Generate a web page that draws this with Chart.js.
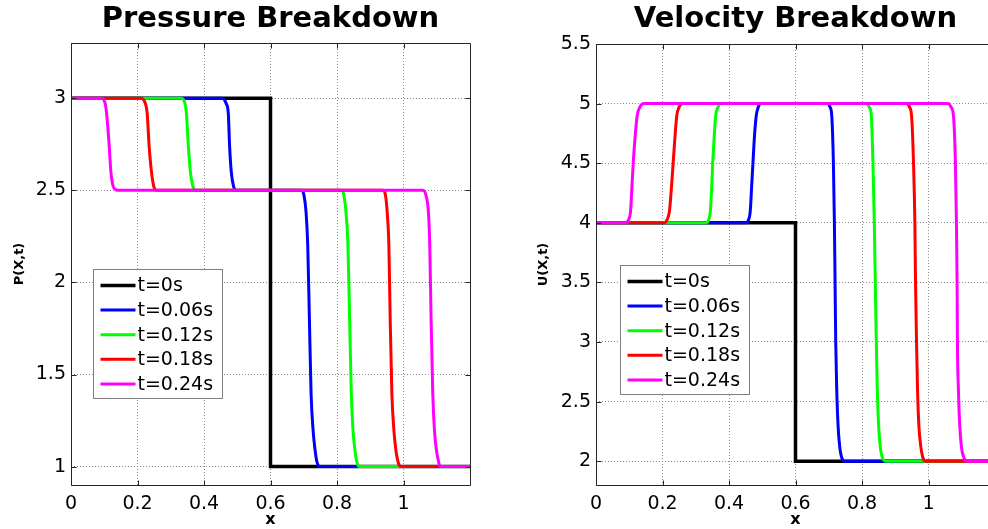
<!DOCTYPE html>
<html>
<head>
<meta charset="utf-8">
<script src="https://cdn.jsdelivr.net/npm/chart.js@4.4.1/dist/chart.umd.min.js"></script>
<style>
  html, body { margin: 0; padding: 0; background: #fff; overflow: hidden; width: 988px; height: 529px; }
  .panel { position: absolute; top: 0; height: 529px; width: 494px; overflow: hidden; }
  #leftPanel { left: 0; }
  #rightPanel { left: 494px; }
  canvas { display: block; }
</style>
</head>
<body>
<div class="panel" id="leftPanel"><canvas id="pressure" width="494" height="529"></canvas></div>
<div class="panel" id="rightPanel"><canvas id="velocity" width="506" height="529"></canvas></div>
<script>
// Snapshot times and their colours
const seriesLabels = ['t=0s', 't=0.06s', 't=0.12s', 't=0.18s', 't=0.24s'];
const seriesColors = ['#000000', '#0000ff', '#00ff00', '#ff0000', '#ff00ff'];

// Axis ticks
const xTicks = [0, 0.2, 0.4, 0.6, 0.8, 1];
const pressureTicks = [1, 1.5, 2, 2.5, 3];
const velocityTicks = [2, 2.5, 3, 3.5, 4, 4.5, 5, 5.5];

// Pressure profiles P(x,t)
const pX0 = [0, 0.6, 0.6, 1.2];
const pY0 = [3, 3, 1, 1];
const pX1 = [0, 0.455, 0.462, 0.467, 0.473, 0.477, 0.482, 0.489, 0.493, 0.498, 0.693, 0.701, 0.707, 0.712, 0.717, 0.722, 0.728, 0.734, 0.739, 0.744, 0.749, 1.2];
const pY1 = [3, 3, 2.99, 2.97, 2.92, 2.74, 2.6, 2.52, 2.505, 2.5, 2.5, 2.47, 2.38, 2.2, 1.8, 1.4, 1.2, 1.09, 1.03, 1.005, 1, 1];
const pX2 = [0, 0.332, 0.339, 0.343, 0.347, 0.353, 0.359, 0.367, 0.371, 0.375, 0.813, 0.821, 0.827, 0.833, 0.838, 0.843, 0.848, 0.854, 0.859, 0.864, 0.869, 1.2];
const pY2 = [3, 3, 2.99, 2.97, 2.92, 2.74, 2.6, 2.52, 2.505, 2.5, 2.5, 2.47, 2.38, 2.2, 1.8, 1.4, 1.2, 1.09, 1.03, 1.005, 1, 1];
const pX3 = [0, 0.212, 0.219, 0.224, 0.229, 0.235, 0.242, 0.249, 0.253, 0.257, 0.938, 0.946, 0.951, 0.956, 0.960, 0.965, 0.971, 0.977, 0.983, 0.988, 0.994, 1.2];
const pY3 = [3, 3, 2.99, 2.97, 2.92, 2.74, 2.6, 2.52, 2.505, 2.5, 2.5, 2.47, 2.38, 2.2, 1.8, 1.4, 1.2, 1.09, 1.03, 1.005, 1, 1];
const pX4 = [0, 0.092, 0.099, 0.103, 0.107, 0.115, 0.120, 0.127, 0.134, 0.142, 1.058, 1.068, 1.075, 1.079, 1.083, 1.088, 1.093, 1.099, 1.105, 1.109, 1.114, 1.2];
const pY4 = [3, 3, 2.99, 2.97, 2.92, 2.74, 2.6, 2.52, 2.505, 2.5, 2.5, 2.47, 2.38, 2.2, 1.8, 1.4, 1.2, 1.09, 1.03, 1.005, 1, 1];

// Velocity profiles U(x,t)
const uX0 = [0, 0.6, 0.6, 1.2];
const uY0 = [4, 4, 2, 2];
const uX1 = [0, 0.450, 0.458, 0.464, 0.468, 0.472, 0.476, 0.482, 0.488, 0.496, 0.696, 0.704, 0.709, 0.714, 0.717, 0.719, 0.721, 0.724, 0.728, 0.733, 0.738, 0.742, 0.747, 1.2];
const uY1 = [4, 4, 4.02, 4.1, 4.3, 4.5, 4.7, 4.9, 4.97, 5, 5, 4.97, 4.9, 4.5, 4, 3.5, 3, 2.6, 2.3, 2.12, 2.04, 2.01, 2, 2];
const uX2 = [0, 0.330, 0.338, 0.344, 0.348, 0.351, 0.355, 0.360, 0.367, 0.375, 0.814, 0.822, 0.828, 0.833, 0.837, 0.840, 0.843, 0.846, 0.850, 0.855, 0.860, 0.865, 0.871, 1.2];
const uY2 = [4, 4, 4.02, 4.1, 4.3, 4.5, 4.7, 4.9, 4.97, 5, 5, 4.97, 4.9, 4.5, 4, 3.5, 3, 2.6, 2.3, 2.12, 2.04, 2.01, 2, 2];
const uX3 = [0, 0.205, 0.213, 0.221, 0.227, 0.232, 0.237, 0.243, 0.250, 0.260, 0.936, 0.943, 0.949, 0.955, 0.959, 0.961, 0.964, 0.967, 0.971, 0.977, 0.982, 0.986, 0.991, 1.2];
const uY3 = [4, 4, 4.02, 4.1, 4.3, 4.5, 4.7, 4.9, 4.97, 5, 5, 4.97, 4.9, 4.5, 4, 3.5, 3, 2.6, 2.3, 2.12, 2.04, 2.01, 2, 2];
const uX4 = [0, 0.089, 0.097, 0.104, 0.108, 0.112, 0.117, 0.124, 0.132, 0.144, 1.059, 1.068, 1.075, 1.081, 1.084, 1.086, 1.087, 1.090, 1.094, 1.099, 1.105, 1.110, 1.117, 1.2];
const uY4 = [4, 4, 4.02, 4.1, 4.3, 4.5, 4.7, 4.9, 4.97, 5, 5, 4.97, 4.9, 4.5, 4, 3.5, 3, 2.6, 2.3, 2.12, 2.04, 2.01, 2, 2];

const FONT = "'DejaVu Sans', 'Liberation Sans', Arial, sans-serif";

// Solid frame round the plot area with short inward tick marks
const axisFrame = {
  id: 'axisFrame',
  afterDatasetsDraw(chart, args, o) {
    const { ctx, chartArea: a, scales } = chart;
    ctx.save();
    ctx.strokeStyle = '#262626';
    ctx.lineWidth = 1;
    const L = Math.round(a.left) + 0.5, R = Math.round(a.right) + 0.5;
    const T = Math.round(a.top) + 0.5, B = Math.round(a.bottom) + 0.5;
    ctx.beginPath();
    ctx.moveTo(R, T); ctx.lineTo(L, T); ctx.lineTo(L, B); ctx.lineTo(R, B);
    if (o.rightEdge) { ctx.lineTo(R, T); }
    for (const v of o.xTicks) {
      const px = Math.round(scales.x.getPixelForValue(v)) + 0.5;
      ctx.moveTo(px, B); ctx.lineTo(px, B - 5);
      ctx.moveTo(px, T); ctx.lineTo(px, T + 5);
    }
    for (const v of o.yTicks) {
      const py = Math.round(scales.y.getPixelForValue(v)) + 0.5;
      ctx.moveTo(L, py); ctx.lineTo(L + 5, py);
      if (o.rightEdge) { ctx.moveTo(R, py); ctx.lineTo(R - 5, py); }
    }
    ctx.stroke();
    ctx.restore();
  }
};

// Legend boxed inside the plot area
const insetLegend = {
  id: 'insetLegend',
  afterDraw(chart, args, o) {
    const { ctx, chartArea: a } = chart;
    const x0 = Math.round(a.left + o.dx) + 0.5;
    const y0 = Math.round(a.top + o.dy) + 0.5;
    const w = 129, h = 129, first = 16, step = 24.6;
    ctx.save();
    ctx.fillStyle = '#ffffff';
    ctx.fillRect(x0, y0, w, h);
    ctx.strokeStyle = '#7f7f7f';
    ctx.lineWidth = 1;
    ctx.strokeRect(x0, y0, w, h);
    ctx.font = '19px ' + FONT;
    ctx.textBaseline = 'middle';
    ctx.textAlign = 'left';
    chart.data.datasets.forEach((ds, i) => {
      const y = y0 + first + i * step;
      ctx.strokeStyle = ds.borderColor;
      ctx.lineWidth = ds.borderWidth;
      ctx.beginPath();
      ctx.moveTo(x0 + 7, y);
      ctx.lineTo(x0 + 42, y);
      ctx.stroke();
      ctx.fillStyle = '#000';
      ctx.fillText(ds.label, x0 + 44, y + 1);
    });
    ctx.restore();
  }
};

const tickText = v => String(Number(Number(v).toFixed(2)));

function makeChart(id, cfg) {
  const datasets = cfg.series.map((s, i) => ({
    label: seriesLabels[i],
    data: s[0].map((x, k) => ({ x: x, y: s[1][k] })),
    borderColor: seriesColors[i],
    backgroundColor: seriesColors[i],
    borderWidth: i === 0 ? 3.5 : 3,
    pointRadius: 0,
    fill: false,
    tension: 0,
    cubicInterpolationMode: i === 0 ? 'default' : 'monotone',
    order: 4 - i
  }));
  const tickFont = { family: FONT, size: 19 };
  return new Chart(document.getElementById(id), {
    type: 'line',
    data: { datasets },
    plugins: [axisFrame, insetLegend],
    options: {
      responsive: false,
      animation: false,
      events: [],
      layout: { padding: cfg.padding },
      plugins: {
        legend: { display: false },
        tooltip: { enabled: false },
        title: {
          display: true,
          text: cfg.title,
          fullSize: false,
          color: '#000',
          font: { family: FONT, size: 29, weight: 'bold', lineHeight: 1.2 },
          padding: { top: 2.4, bottom: cfg.titleGap }
        },
        axisFrame: { xTicks: xTicks, yTicks: cfg.yTicks, rightEdge: cfg.rightEdge },
        insetLegend: cfg.legend
      },
      scales: {
        x: {
          type: 'linear',
          min: 0,
          max: 1.2,
          afterBuildTicks: s => { s.ticks = xTicks.map(v => ({ value: v })); },
          afterFit: s => { s.height = 44; },
          grid: { color: '#8a8a8a', lineWidth: 1, drawTicks: false },
          border: { display: false, dash: [1, 2] },
          ticks: { color: '#000', font: tickFont, padding: 8, maxRotation: 0, autoSkip: false, callback: tickText },
          title: { display: true, text: 'x', color: '#000', padding: 0,
                   font: { family: FONT, size: 16, weight: 'bold', lineHeight: 1.2 } }
        },
        y: {
          type: 'linear',
          min: cfg.yMin,
          max: cfg.yMax,
          afterBuildTicks: s => { s.ticks = cfg.yTicks.map(v => ({ value: v })); },
          afterFit: s => { s.width = cfg.yWidth; },
          grid: { color: '#8a8a8a', lineWidth: 1, drawTicks: false },
          border: { display: false, dash: [1, 2] },
          ticks: { color: '#000', font: tickFont, padding: 5, autoSkip: false, callback: tickText },
          title: { display: true, text: cfg.yTitle, color: '#000', padding: { top: cfg.yTitlePad, bottom: 0 },
                   font: { family: FONT, size: 13, weight: 'bold', lineHeight: 1.2 } }
        }
      }
    }
  });
}

makeChart('pressure', {
  title: 'Pressure Breakdown',
  titleGap: 5.8,
  series: [[pX0, pY0], [pX1, pY1], [pX2, pY2], [pX3, pY3], [pX4, pY4]],
  yMin: 0.9, yMax: 3.3, yTicks: pressureTicks,
  yTitle: 'P(X,t)', yWidth: 71, yTitlePad: 12,
  padding: { left: 0, right: 24, top: 0, bottom: 0 },
  rightEdge: true,
  legend: { dx: 22, dy: 226 }
});

makeChart('velocity', {
  title: 'Velocity Breakdown',
  titleGap: 6.8,
  series: [[uX0, uY0], [uX1, uY1], [uX2, uY2], [uX3, uY3], [uX4, uY4]],
  yMin: 1.8, yMax: 5.5, yTicks: velocityTicks,
  yTitle: 'U(X,t)', yWidth: 102, yTitlePad: 42,
  padding: { left: 0, right: 5, top: 0, bottom: 0 },
  rightEdge: false,
  legend: { dx: 24, dy: 221 }
});
</script>
</body>
</html>
